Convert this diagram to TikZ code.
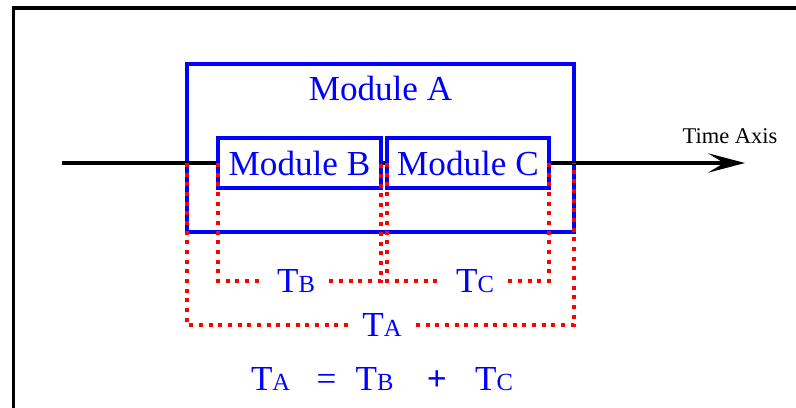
\documentclass[tikz,border=0pt]{standalone}
\usepackage{fontspec}
\setmainfont{Liberation Serif}
\usetikzlibrary{positioning,arrows.meta}
\definecolor{tmblue}{RGB}{0,0,255}
\definecolor{tmred}{RGB}{255,0,0}
\newcommand{\tsub}[1]{T{\fontsize{14}{14}\selectfont #1}}
\tikzset{
  tm/.style={font=\fontsize{20}{24}\selectfont, text=tmblue},
  tmbox/.style={
    tm, draw=tmblue, line width=2pt, outer sep=0pt, inner sep=0pt
  },
  tmtip/.tip={Stealth[length=21pt,width=11pt,inset=9pt]},
  tmarr/.style={draw=black, line width=1.8pt, -tmtip},
  tmdot/.style={draw=tmred, line width=2pt, dash pattern=on 2.3pt off 3.2pt},
  tmlbl/.style={tm, inner xsep=8pt, inner ysep=0pt},
  tmframe/.style={draw=black, line width=2pt},
}

\begin{document}
\begin{tikzpicture}[x=0.02cm, y=-0.02cm]
    \useasboundingbox (0,0) rectangle (796,408);
    \draw[tmframe] (13.5,408) |- (796,8);

    \node[tmbox, minimum width=7.74cm, minimum height=3.36cm,
      label={[tm, anchor=north, inner sep=0pt, yshift=-0.23cm]north:Module A}] (modA) at (380.5,148) {};

    \coordinate (axs) at (62,163);
    \coordinate (axe) at (745,163);
    \draw[tmarr] (axs) -- (axe);
    \node[font=\fontsize{12.8}{14}\selectfont, anchor=base] (axlbl) at (730,144) {Time Axis};

    \node[tmbox, fill=white, minimum width=3.26cm, minimum height=1cm] (modB) at (299.5,163) {Module B};
    \node[tmbox, fill=white, minimum width=3.24cm, minimum height=1cm,
      right=0.12cm of modB] (modC) {Module C};

    % durations
    \node[tmlbl] (tb) at (296,281) {\tsub{B}};
    \node[tmlbl] (tc) at (475,281) {\tsub{C}};
    \node[tmlbl] (ta) at (382,325) {\tsub{A}};

    \draw[tmdot] (modB.west) |- (tb.west);
    \draw[tmdot] (tb.east) -| (modB.east);
    \draw[tmdot] (modC.west) |- (tc.west);
    \draw[tmdot] (tc.east) -| (modC.east);
    \draw[tmdot] (modA.west |- axs) |- (ta.west);
    \draw[tmdot] (ta.east) -| (modA.east |- axs);

    \node[tm, anchor=base] (sum) at (382,391)
      {\tsub{A}\hspace{15pt}=\hspace{11pt}\tsub{B}\hspace{19pt}\textbf{+}\hspace{16pt}\tsub{C}};
  \end{tikzpicture}
\end{document}
